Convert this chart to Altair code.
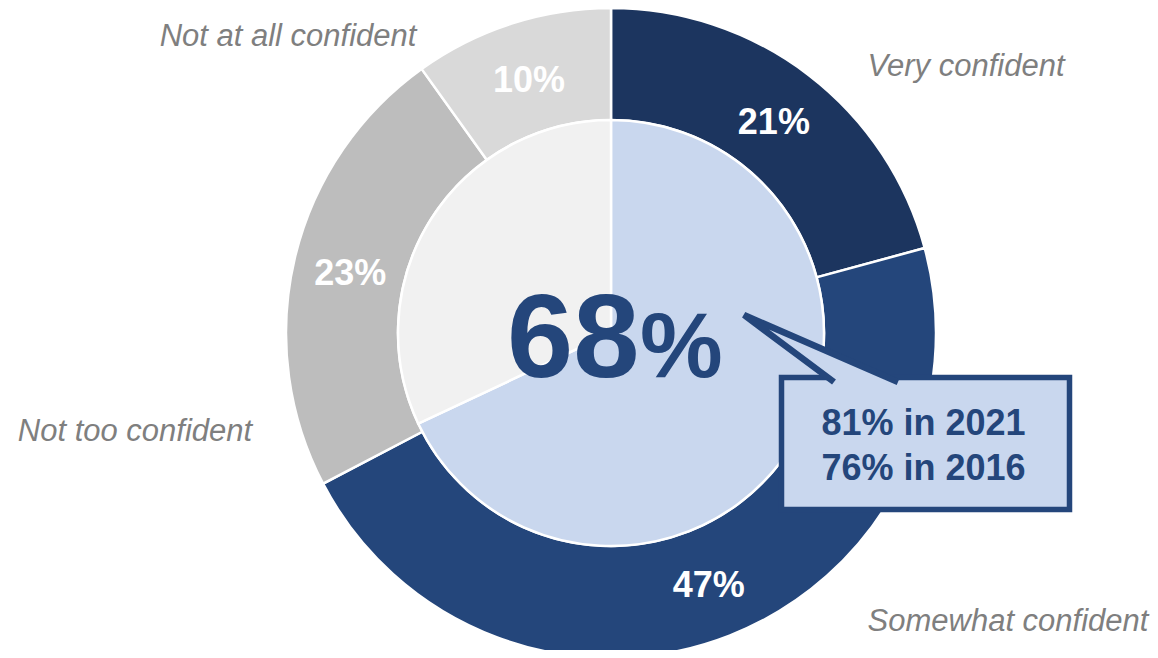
import altair as alt
import pandas as pd

# ---- data ----
outer_cats = ["Very confident", "Somewhat confident", "Not too confident", "Not at all confident"]
outer_vals = [21, 47, 23, 10]
outer_colors = ["#1c355f", "#24467b", "#bdbdbd", "#d9d9d9"]

inner_cats = ["Confident", "Not confident"]
inner_vals = [68, 32]
inner_colors = ["#c9d7ee", "#f1f1f1"]

center_value = "68"
callout_lines = ["81% in 2021", "76% in 2016"]

# ---- layout (style / positions) ----
W, H = 1142, 642
CX, CY = 603, 325
R_OUT, R_IN = 325, 213
BLUE = "#24467b"
LABEL_GREY = "#7f7f7f"
FONT = "Liberation Sans"

label_pos = {
    "Very confident": (958, 59),
    "Somewhat confident": (1000, 614),
    "Not too confident": (127, 424),
    "Not at all confident": (280, 29),
}

outer_df = pd.DataFrame({"cat": outer_cats, "val": outer_vals,
                         "order": list(range(len(outer_cats))),
                         "label": [f"{v}%" for v in outer_vals]})
inner_df = pd.DataFrame({"cat": inner_cats, "val": inner_vals,
                         "order": list(range(len(inner_cats)))})

one = pd.DataFrame({"k": [0]})

outer = alt.Chart(outer_df).mark_arc(
    innerRadius=R_IN, outerRadius=R_OUT, stroke="white", strokeWidth=2.5
).encode(
    theta=alt.Theta("val:Q", stack=True),
    order=alt.Order("order:Q"),
    color=alt.Color("cat:N", scale=alt.Scale(domain=outer_cats, range=outer_colors), legend=None),
    x=alt.value(CX), y=alt.value(CY),
)

pct = alt.Chart(outer_df).mark_text(
    radius=268, font=FONT, fontSize=36, fontWeight="bold", color="white",
    align="center", baseline="middle", dy=3
).encode(
    theta=alt.Theta("val:Q", stack=True),
    order=alt.Order("order:Q"),
    text="label:N",
    x=alt.value(CX), y=alt.value(CY),
)

inner = alt.Chart(inner_df).mark_arc(
    outerRadius=R_IN, stroke="white", strokeWidth=2.5
).encode(
    theta=alt.Theta("val:Q", stack=True),
    order=alt.Order("order:Q"),
    color=alt.Color("cat:N", scale=alt.Scale(domain=inner_cats, range=inner_colors), legend=None),
    x=alt.value(CX), y=alt.value(CY),
)

layers = [outer, pct, inner]

for cat in outer_cats:
    lx, ly = label_pos[cat]
    layers.append(
        alt.Chart(one).mark_text(
            text=cat, font=FONT, fontSize=31, fontStyle="italic", color=LABEL_GREY,
            align="center", baseline="middle"
        ).encode(x=alt.value(lx), y=alt.value(ly))
    )

# center big number
layers.append(
    alt.Chart(one).mark_text(
        text=center_value, font=FONT, fontSize=119, fontWeight="bold", color=BLUE,
        align="left", baseline="alphabetic"
    ).encode(x=alt.value(499), y=alt.value(369))
)
layers.append(
    alt.Chart(one).mark_text(
        text="%", font=FONT, fontSize=93, fontWeight="bold", color=BLUE,
        align="left", baseline="alphabetic"
    ).encode(x=alt.value(632), y=alt.value(369))
)

# callout box
box = alt.Chart(one).mark_rect(
    fill="#c9d7ee", stroke=BLUE, strokeWidth=5.5
).encode(x=alt.value(773.5), x2=alt.value(1061.5), y=alt.value(369.5), y2=alt.value(501.5))
layers.append(box)

# callout pointer (open path: stroke only on the two sides)
pointer_path = "M 826 374 L 736 307 L 890 374"
pointer = alt.Chart(one).mark_point(
    shape=pointer_path, size=4, filled=True, fill="#c9d7ee", fillOpacity=1,
    stroke=BLUE, strokeWidth=6.5, strokeOpacity=1, strokeJoin="miter", opacity=1
).encode(x=alt.value(0), y=alt.value(0))
layers.append(pointer)

for i, line in enumerate(callout_lines):
    layers.append(
        alt.Chart(one).mark_text(
            text=line, font=FONT, fontSize=36, fontWeight="bold", color=BLUE,
            align="center", baseline="alphabetic"
        ).encode(x=alt.value(915.5), y=alt.value(427 + 45 * i))
    )

chart = alt.layer(*layers).resolve_scale(
    theta="independent", color="independent"
).properties(
    width=W, height=H, autosize=alt.AutoSizeParams(type="none"), padding=0
).configure_view(stroke=None)

chart.save("out.html", embed_options={"renderer": "svg", "actions": False})
